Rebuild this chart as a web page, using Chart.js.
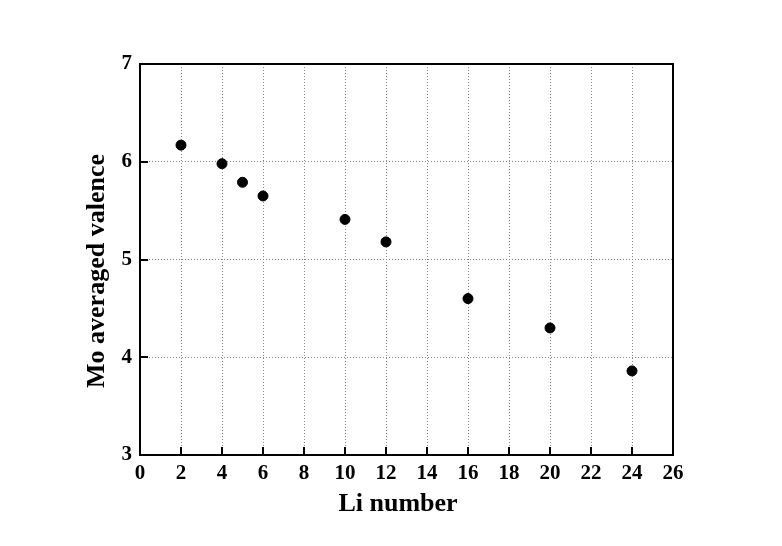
<!DOCTYPE html>
<html><head><meta charset="utf-8">
<script src="https://cdn.jsdelivr.net/npm/chart.js@4/dist/chart.umd.min.js"></script>
<style>html,body{margin:0;padding:0;background:#fff;} canvas{display:block}</style>
</head><body>
<canvas id="c" width="782" height="546"></canvas>
<script>
const liNumber = [2, 4, 5, 6, 10, 12, 16, 20, 24];
const moValence = [6.17, 5.98, 5.79, 5.65, 5.41, 5.18, 4.60, 4.30, 3.86];
const xTitle = 'Li number';
const yTitle = 'Mo averaged valence';
const xMin = 0, xMax = 26, xStep = 2;
const yMin = 3, yMax = 7, yStep = 1;

const FONT = '"Liberation Serif", "Times New Roman", serif';
Chart.defaults.font.family = FONT;
Chart.defaults.color = '#000';

const points = liNumber.map((x, i) => ({x: x, y: moValence[i]}));

const gridColor = (min, max) => (ctx) => {
  const v = ctx.tick ? ctx.tick.value : null;
  return (v === min || v === max) ? 'rgba(0,0,0,0)' : '#8a8a8a';
};

const framePlugin = {
  id: 'frame',
  afterDraw(chart) {
    const {ctx, chartArea: a, scales} = chart;
    ctx.save();
    ctx.strokeStyle = '#000';
    ctx.lineWidth = 2;
    ctx.setLineDash([]);
    ctx.strokeRect(a.left, a.top, a.right - a.left, a.bottom - a.top);
    const L = 8;
    ctx.beginPath();
    scales.x.ticks.forEach(t => {
      if (t.value === xMin || t.value === xMax) return;
      const px = Math.round(scales.x.getPixelForValue(t.value));
      ctx.moveTo(px, a.bottom);
      ctx.lineTo(px, a.bottom - L);
    });
    scales.y.ticks.forEach(t => {
      if (t.value === yMin || t.value === yMax) return;
      const py = Math.round(scales.y.getPixelForValue(t.value));
      ctx.moveTo(a.left, py);
      ctx.lineTo(a.left + L, py);
    });
    ctx.stroke();
    ctx.fillStyle = '#000';
    ctx.font = 'bold 26px ' + FONT;
    ctx.textAlign = 'center';
    ctx.textBaseline = 'alphabetic';
    ctx.fillText(xTitle, 398, 511);
    ctx.translate(104, 271);
    ctx.rotate(-Math.PI / 2);
    ctx.fillText(yTitle, 0, 0);
    ctx.restore();
  }
};

new Chart(document.getElementById('c'), {
  type: 'scatter',
  data: {
    datasets: [{
      data: points,
      backgroundColor: '#000',
      borderColor: '#000',
      pointRadius: 5,
      pointHoverRadius: 5,
      showLine: false
    }]
  },
  options: {
    responsive: false,
    animation: false,
    events: [],
    layout: {padding: {left: 0, top: 64, right: 109, bottom: 0}},
    plugins: {legend: {display: false}, tooltip: {enabled: false}},
    scales: {
      x: {
        type: 'linear',
        min: xMin, max: xMax,
        afterFit(s) { s.height = 91; },
        border: {display: false, dash: [1, 2]},
        grid: {color: gridColor(xMin, xMax), lineWidth: 1, drawTicks: false},
        ticks: {stepSize: xStep, padding: 6, color: '#000', font: {size: 21, weight: 'bold'}}
      },
      y: {
        type: 'linear',
        min: yMin, max: yMax,
        afterFit(s) { s.width = 140; },
        border: {display: false, dash: [1, 2]},
        grid: {color: gridColor(yMin, yMax), lineWidth: 1, drawTicks: false},
        ticks: {stepSize: yStep, padding: 8, color: '#000', font: {size: 21, weight: 'bold'}}
      }
    }
  },
  plugins: [framePlugin]
});
</script>
</body></html>
